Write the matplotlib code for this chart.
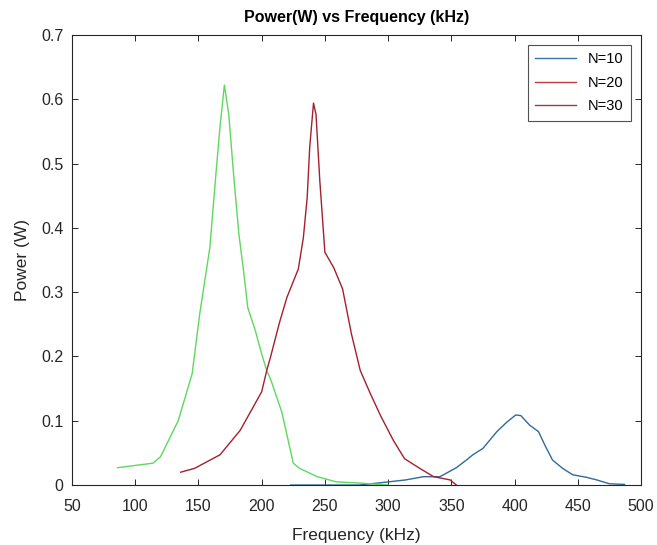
import matplotlib.pyplot as plt
from matplotlib.lines import Line2D

plt.rcParams['font.family'] = ['Liberation Sans', 'DejaVu Sans']

# Data (frequency in kHz, power in W)
f_n10 = [223, 250, 277, 296, 314, 328, 338, 341, 354, 362, 367, 375, 386, 394,
         401, 405, 412, 419, 424, 430, 438, 446, 457, 465, 475, 487]
p_n10 = [0.0, 0.0, 0.0, 0.004, 0.008, 0.013, 0.013, 0.013, 0.027, 0.039, 0.047,
         0.057, 0.083, 0.098, 0.109, 0.108, 0.093, 0.083, 0.062, 0.039, 0.026,
         0.016, 0.012, 0.008, 0.002, 0.001]

f_n20 = [136, 147, 167, 183, 200, 204, 207, 214, 220, 229, 233, 236, 238, 241,
         243, 246, 250, 257, 264, 271, 278, 286, 294, 304, 313, 325, 336, 349, 354]
p_n20 = [0.020, 0.026, 0.047, 0.085, 0.145, 0.178, 0.199, 0.252, 0.292, 0.336,
         0.385, 0.447, 0.525, 0.594, 0.576, 0.473, 0.362, 0.338, 0.305, 0.235,
         0.178, 0.142, 0.108, 0.070, 0.041, 0.026, 0.013, 0.008, 0.0]

f_green = [86, 114, 120, 134, 145, 151, 159, 164, 167, 170.5, 174, 178, 182, 186,
           189, 195, 200, 204, 207, 216, 225, 230, 244, 259, 278, 300]
p_green = [0.027, 0.034, 0.044, 0.100, 0.173, 0.266, 0.369, 0.488, 0.556, 0.622,
           0.576, 0.478, 0.390, 0.328, 0.276, 0.240, 0.204, 0.178, 0.165, 0.113,
           0.034, 0.026, 0.013, 0.005, 0.003, 0.0]

fig = plt.figure(figsize=(6.57, 5.45), dpi=100)
ax = fig.add_axes([0.1096, 0.110, 0.866, 0.826])

ax.plot(f_n10, p_n10, color='#2f6b98', lw=1.0)
ax.plot(f_green, p_green, color='#5ed85e', lw=1.0)
ax.plot(f_n20, p_n20, color='#a3202e', lw=1.0)

ax.set_xlim(50, 500)
ax.set_ylim(0, 0.7)
ax.set_xticks(range(50, 501, 50))
ax.set_yticks([0, 0.1, 0.2, 0.3, 0.4, 0.5, 0.6, 0.7])
ax.set_yticklabels(['0', '0.1', '0.2', '0.3', '0.4', '0.5', '0.6', '0.7'])
ax.tick_params(direction='in', top=True, right=True, labelsize=11.5,
               colors='#262626', length=4, width=0.7)
ax.tick_params(axis='x', pad=10)
ax.tick_params(axis='y', pad=6)
for s in ax.spines.values():
    s.set_color('#262626')
    s.set_linewidth(0.8)

ax.set_title('Power(W) vs Frequency (kHz)', fontsize=11.5, fontweight='bold', pad=9)
ax.set_xlabel('Frequency (kHz)', fontsize=12.5, color='#262626', labelpad=10)
ax.set_ylabel('Power (W)', fontsize=12.5, color='#262626', labelpad=8)

handles = [Line2D([], [], color='#3a77a6', lw=1.0),
           Line2D([], [], color='#c23b3e', lw=1.0),
           Line2D([], [], color='#a23a4a', lw=1.0)]
leg = ax.legend(handles, ['N=10', 'N=20', 'N=30'], loc='upper right',
                fontsize=10.5, fancybox=False, edgecolor='#262626',
                handlelength=2.8, borderaxespad=0.7, labelspacing=0.65,
                borderpad=0.5)
leg.get_frame().set_linewidth(0.8)

fig.savefig('out.png', dpi=100)
